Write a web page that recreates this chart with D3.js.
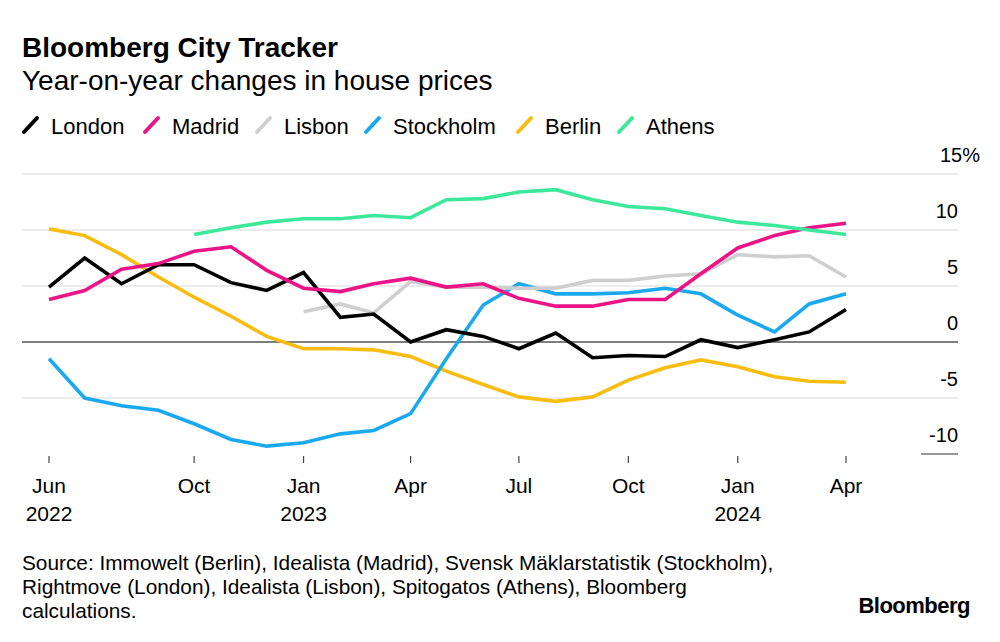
<!DOCTYPE html>
<html>
<head>
<meta charset="utf-8">
<script src="https://cdn.jsdelivr.net/npm/d3@7"></script>
<style>
  body { margin: 0; background: #fff; }
  text { font-family: "Liberation Sans", Arial, sans-serif; fill: #000; }
</style>
</head>
<body>
<div id="vis"></div>
<script>
// monthly observations, Jun 2022 .. Apr 2024
const months = ['2022-06', '2022-07', '2022-08', '2022-09', '2022-10', '2022-11', '2022-12',
    '2023-01', '2023-02', '2023-03', '2023-04', '2023-05', '2023-06', '2023-07', '2023-08',
    '2023-09', '2023-10', '2023-11', '2023-12', '2024-01', '2024-02', '2024-03', '2024-04'];

const london = [4.9, 7.5, 5.2, 6.9, 6.9, 5.3, 4.6, 6.2, 2.2, 2.5, 0.0, 1.1, 0.5, -0.6, 0.8,
    -1.4, -1.2, -1.3, 0.2, -0.5, 0.2, 0.9, 2.9];
const madrid = [3.8, 4.6, 6.5, 7.0, 8.1, 8.5, 6.4, 4.8, 4.5, 5.2, 5.7, 4.9, 5.2, 3.9, 3.2,
    3.2, 3.8, 3.8, 6.1, 8.4, 9.5, 10.2, 10.6];
const lisbon = [null, null, null, null, null, null, null, 2.7, 3.4, 2.6, 5.4, 4.9, 4.9, 4.8, 4.8,
    5.5, 5.5, 5.9, 6.1, 7.8, 7.6, 7.7, 5.8];
const stockholm = [-1.5, -5.0, -5.7, -6.1, -7.3, -8.7, -9.3, -9.0, -8.2, -7.9, -6.4, -1.5, 3.3,
    5.2, 4.3, 4.3, 4.4, 4.8, 4.3, 2.4, 0.9, 3.4, 4.3];
const berlin = [10.1, 9.5, 7.8, 5.8, 4.0, 2.3, 0.5, -0.6, -0.6, -0.7, -1.3, -2.6, -3.8, -4.9,
    -5.3, -4.9, -3.4, -2.3, -1.6, -2.2, -3.1, -3.5, -3.6];
const athens = [null, null, null, null, 9.6, 10.2, 10.7, 11.0, 11.0, 11.3, 11.1, 12.7, 12.8,
    13.4, 13.6, 12.7, 12.1, 11.9, 11.3, 10.7, 10.4, 10.0, 9.6];

const cities = ['London', 'Madrid', 'Lisbon', 'Stockholm', 'Berlin', 'Athens'];
const colors = ['#000000', '#ec1387', '#cfcfcf', '#1aa9ef', '#f9bd12', '#3de89a'];
const yTicks = [15, 10, 5, 0, -5, -10];
const xTicks = [
    { date: '2022-06', label: ['Jun', '2022'] },
    { date: '2022-10', label: ['Oct'] },
    { date: '2023-01', label: ['Jan', '2023'] },
    { date: '2023-04', label: ['Apr'] },
    { date: '2023-07', label: ['Jul'] },
    { date: '2023-10', label: ['Oct'] },
    { date: '2024-01', label: ['Jan', '2024'] },
    { date: '2024-04', label: ['Apr'] }
];

const seriesValues = [london, madrid, lisbon, stockholm, berlin, athens];

let dimensions = {
    width: 1000,
    height: 642,
    left: 22,
    right: 958,
    plotLeft: 49,
    plotRight: 846,
    top: 174,
    bottom: 454
};

const parseMonth = d3.timeParse('%Y-%m');

const wrapper = d3.select('#vis')
    .append('svg')
    .attr('width', dimensions.width)
    .attr('height', dimensions.height);

const xScale = d3.scaleTime()
    .domain([parseMonth(months[0]), parseMonth(months[months.length - 1])])
    .range([dimensions.plotLeft, dimensions.plotRight]);

const yScale = d3.scaleLinear()
    .domain([-10, 15])
    .range([dimensions.bottom, dimensions.top]);

// Title block
wrapper.append('text')
    .attr('x', 22).attr('y', 57)
    .style('font-size', '28px').style('font-weight', 'bold')
    .text('Bloomberg City Tracker');
wrapper.append('text')
    .attr('x', 22).attr('y', 90)
    .style('font-size', '28px')
    .text('Year-on-year changes in house prices');

// Legend
const legendX = [22, 143, 255, 364, 516, 617];
const legend = wrapper.append('g')
    .selectAll('g')
    .data(cities)
    .join('g')
    .attr('transform', (d, i) => `translate(${legendX[i]}, 134)`);
legend.append('line')
    .attr('x1', 2).attr('y1', -2)
    .attr('x2', 15).attr('y2', -16)
    .attr('stroke', (d, i) => colors[i])
    .attr('stroke-width', 4)
    .attr('stroke-linecap', 'round');
legend.append('text')
    .attr('x', 29).attr('y', 0)
    .style('font-size', '22px')
    .text(d => d);

// Grid
const grid = wrapper.append('g');
grid.selectAll('line')
    .data(yTicks.filter(d => d !== -10))
    .join('line')
    .attr('x1', dimensions.left)
    .attr('x2', dimensions.right)
    .attr('y1', d => yScale(d))
    .attr('y2', d => yScale(d))
    .attr('stroke', d => d === 0 ? '#555' : '#dadada')
    .attr('stroke-width', d => d === 0 ? 1.4 : 1.2);
grid.append('line')
    .attr('x1', 921).attr('x2', dimensions.right)
    .attr('y1', yScale(-10)).attr('y2', yScale(-10))
    .attr('stroke', '#333').attr('stroke-width', 1.2);

// Y labels, sit above their gridline
wrapper.append('g')
    .selectAll('text')
    .data(yTicks)
    .join('text')
    .attr('x', d => d === 15 ? 980 : dimensions.right)
    .attr('y', d => yScale(d) - 12)
    .attr('text-anchor', 'end')
    .style('font-size', '20px')
    .text(d => d === 15 ? '15%' : d);

// X axis ticks
const xAxis = wrapper.append('g');
xAxis.selectAll('line')
    .data(xTicks)
    .join('line')
    .attr('x1', d => xScale(parseMonth(d.date)))
    .attr('x2', d => xScale(parseMonth(d.date)))
    .attr('y1', 456).attr('y2', 463)
    .attr('stroke', '#444').attr('stroke-width', 1.2);
const xLabels = xAxis.selectAll('text')
    .data(xTicks)
    .join('text')
    .attr('text-anchor', 'middle')
    .style('font-size', '21px');
xLabels.selectAll('tspan')
    .data(d => d.label.map(l => ({ l, x: xScale(parseMonth(d.date)) })))
    .join('tspan')
    .attr('x', d => d.x)
    .attr('y', (d, i) => 493 + i * 28)
    .text(d => d.l);

// Lines
const lineGen = d3.line()
    .defined(d => d.v !== null)
    .x(d => xScale(d.date))
    .y(d => yScale(d.v));

const drawOrder = [4, 3, 2, 0, 1, 5];
wrapper.append('g')
    .selectAll('path')
    .data(drawOrder)
    .join('path')
    .attr('d', k => lineGen(seriesValues[k].map((v, i) => ({ date: parseMonth(months[i]), v }))))
    .attr('fill', 'none')
    .attr('stroke', k => colors[k])
    .attr('stroke-width', 3.6)
    .attr('stroke-linejoin', 'miter');

// Footer
const source = [
    'Source: Immowelt (Berlin), Idealista (Madrid), Svensk Mäklarstatistik (Stockholm),',
    'Rightmove (London), Idealista (Lisbon), Spitogatos (Athens), Bloomberg',
    'calculations.'
];
wrapper.append('g')
    .selectAll('text')
    .data(source)
    .join('text')
    .attr('x', 22)
    .attr('y', (d, i) => 570 + i * 24)
    .style('font-size', '20.8px')
    .text(d => d);

wrapper.append('text')
    .attr('x', 970).attr('y', 613)
    .attr('text-anchor', 'end')
    .style('font-size', '22px').style('font-weight', 'bold')
    .style('letter-spacing', '-0.5px')
    .text('Bloomberg');
</script>
</body>
</html>
